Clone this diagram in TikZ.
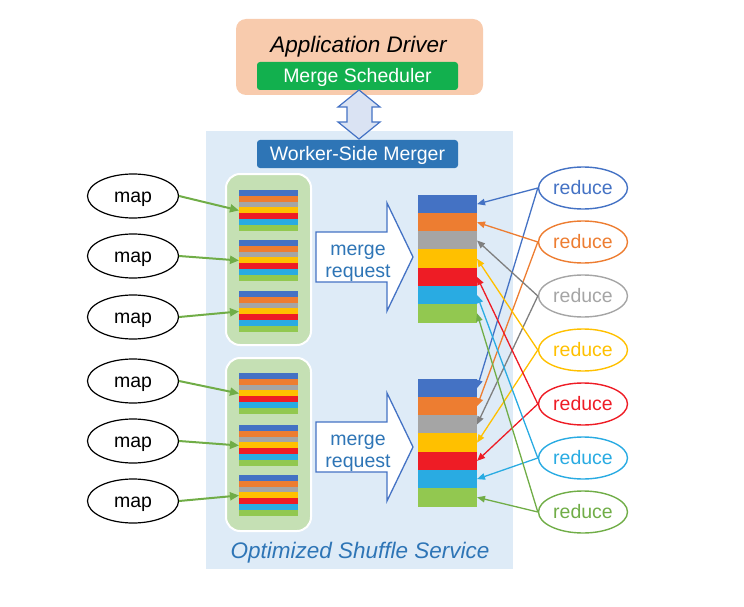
\documentclass[tikz,border=0pt]{standalone}
\usepackage{fontspec}
\setmainfont{Liberation Sans}
\usetikzlibrary{arrows.meta,shapes.geometric}

\definecolor{sbBlue}{HTML}{4472C4}
\definecolor{sbOrange}{HTML}{ED7D31}
\definecolor{sbGrey}{HTML}{A5A5A5}
\definecolor{lineGrey}{HTML}{7F7F7F}
\definecolor{sbYellow}{HTML}{FFC000}
\definecolor{sbRed}{HTML}{EE1C25}
\definecolor{sbCyan}{HTML}{29ABE2}
\definecolor{sbGreen}{HTML}{92C850}
\definecolor{arrGreen}{HTML}{70AD47}
\definecolor{peach}{HTML}{F8CBAD}
\definecolor{schedGreen}{HTML}{12B04E}
\definecolor{mergerBlue}{HTML}{2E75B6}
\definecolor{serviceBg}{HTML}{DEEBF7}
\definecolor{boxGreen}{HTML}{C5E0B4}
\definecolor{dblFill}{HTML}{DAE3F3}

\newcommand{\osslabel}{\fontsize{19.5}{22.5}\selectfont}
\newcommand{\osstitle}{\fontsize{22.5}{26}\selectfont\itshape}

\begin{document}
\begin{tikzpicture}[x=1pt, y=-1pt,
  stripe/.style={inner sep=0pt, outer sep=0pt, draw=none, minimum width=59pt},
  bar/.style={inner sep=0pt, minimum height=28pt, minimum width=201pt, rounded corners=3pt,
    text=white, font=\osslabel, text height=17.6pt, text depth=4.1pt},
  mapnode/.style={ellipse, draw=black, line width=1.2pt, minimum width=91pt, minimum height=44pt,
    inner sep=0pt, font=\osslabel, text height=17.6pt, text depth=4.1pt},
  reducenode/.style={ellipse, line width=1.4pt, minimum width=89pt, minimum height=42pt,
    inner sep=0pt, font=\osslabel, text height=17.6pt, text depth=4.1pt},
  group/.style={fill=boxGreen, draw=white, line width=2pt, rounded corners=14pt},
  reqarrow/.style={fill=white, draw=sbBlue, line width=1.3pt, line join=miter},
  reqtext/.style={font=\osslabel, text=mergerBlue, anchor=base, inner sep=0pt},
  maparrow/.style={arrGreen, line width=2pt, -{Triangle[length=9pt,width=8pt]}},
  redarrow/.style={line width=1.3pt, -{Triangle[length=8pt,width=6.5pt]}}]
\useasboundingbox (0,0) rectangle (744,607);

% driver and service areas
\node[fill=peach, rounded corners=10pt, minimum width=247pt, minimum height=76pt, inner sep=0pt] (driver) at (359.5,57) {};
\node[font=\osstitle, anchor=base, inner sep=0pt] (drivertxt) at (358.5,53) {Application Driver};
\node[bar, fill=schedGreen] (sched) at (357.5,76) {Merge Scheduler};

\fill[serviceBg] (206,131) rectangle (513,569);
\node[bar, fill=mergerBlue] (merger) at (357.5,154) {Worker-Side Merger};

\draw[fill=dblFill, draw=sbBlue, line width=1.2pt, line join=miter]
  (359,90) -- (380,107) -- (372,107) -- (372,122) -- (380,122) -- (359,139)
  -- (338,122) -- (347,122) -- (347,107) -- (338,107) -- cycle;

\node[font=\osstitle, text=mergerBlue, anchor=base, inner sep=0pt] (osstxt) at (360,558) {Optimized Shuffle Service};

% map side
\draw[group] (226,174) rectangle (311,345);
\draw[group] (226,358) rectangle (311,531);

\foreach \t [count=\s] in {190,240,291,373,425,475}
  \foreach \c [count=\k] in {sbBlue,sbOrange,sbGrey,sbYellow,sbRed,sbCyan,sbGreen}
    \node[stripe, minimum height=6.1pt, fill=\c] (s\s-\k) at (268.5,{\t+5.85*\k-2.925}) {};

\foreach \y [count=\i] in {196,256,317,381,441,501}
  \node[mapnode] (map\i) at (133,\y) {map};

\foreach \i in {1,...,6}
  \draw[maparrow] (map\i.east) -- (s\i-4.west);

% merge requests
\foreach \cy [count=\r] in {257,447} {
  \draw[reqarrow] (316,\cy-25) -- (387,\cy-25) -- (387,\cy-54) -- (413,\cy)
    -- (387,\cy+54) -- (387,\cy+25) -- (316,\cy+25) -- cycle;
  \node[reqtext] (req\r a) at (358,\cy-2) {merge};
  \node[reqtext] (req\r b) at (358,\cy+20) {request};
}

% merged partitions
\foreach \t/\n in {195/A,379/B}
  \foreach \c [count=\k] in {sbBlue,sbOrange,sbGrey,sbYellow,sbRed,sbCyan,sbGreen}
    \node[stripe, minimum height=18.5pt, fill=\c] (\n\k) at (447.5,{\t+18.2*\k-9.1}) {};

% reducers
\foreach \c [count=\k] in {sbBlue,sbOrange,sbGrey,sbYellow,sbRed,sbCyan,arrGreen}
  \node[reducenode, draw=\c, text=\c] (red\k) at (583,{188+54*(\k-1)}) {reduce};

\foreach \c [count=\k] in {sbBlue,sbOrange,lineGrey,sbYellow,sbRed,sbCyan,arrGreen} {
  \draw[redarrow, \c] (red\k.west) -- (A\k.east);
  \draw[redarrow, \c] (red\k.west) -- (B\k.east);
}
\end{tikzpicture}
\end{document}
